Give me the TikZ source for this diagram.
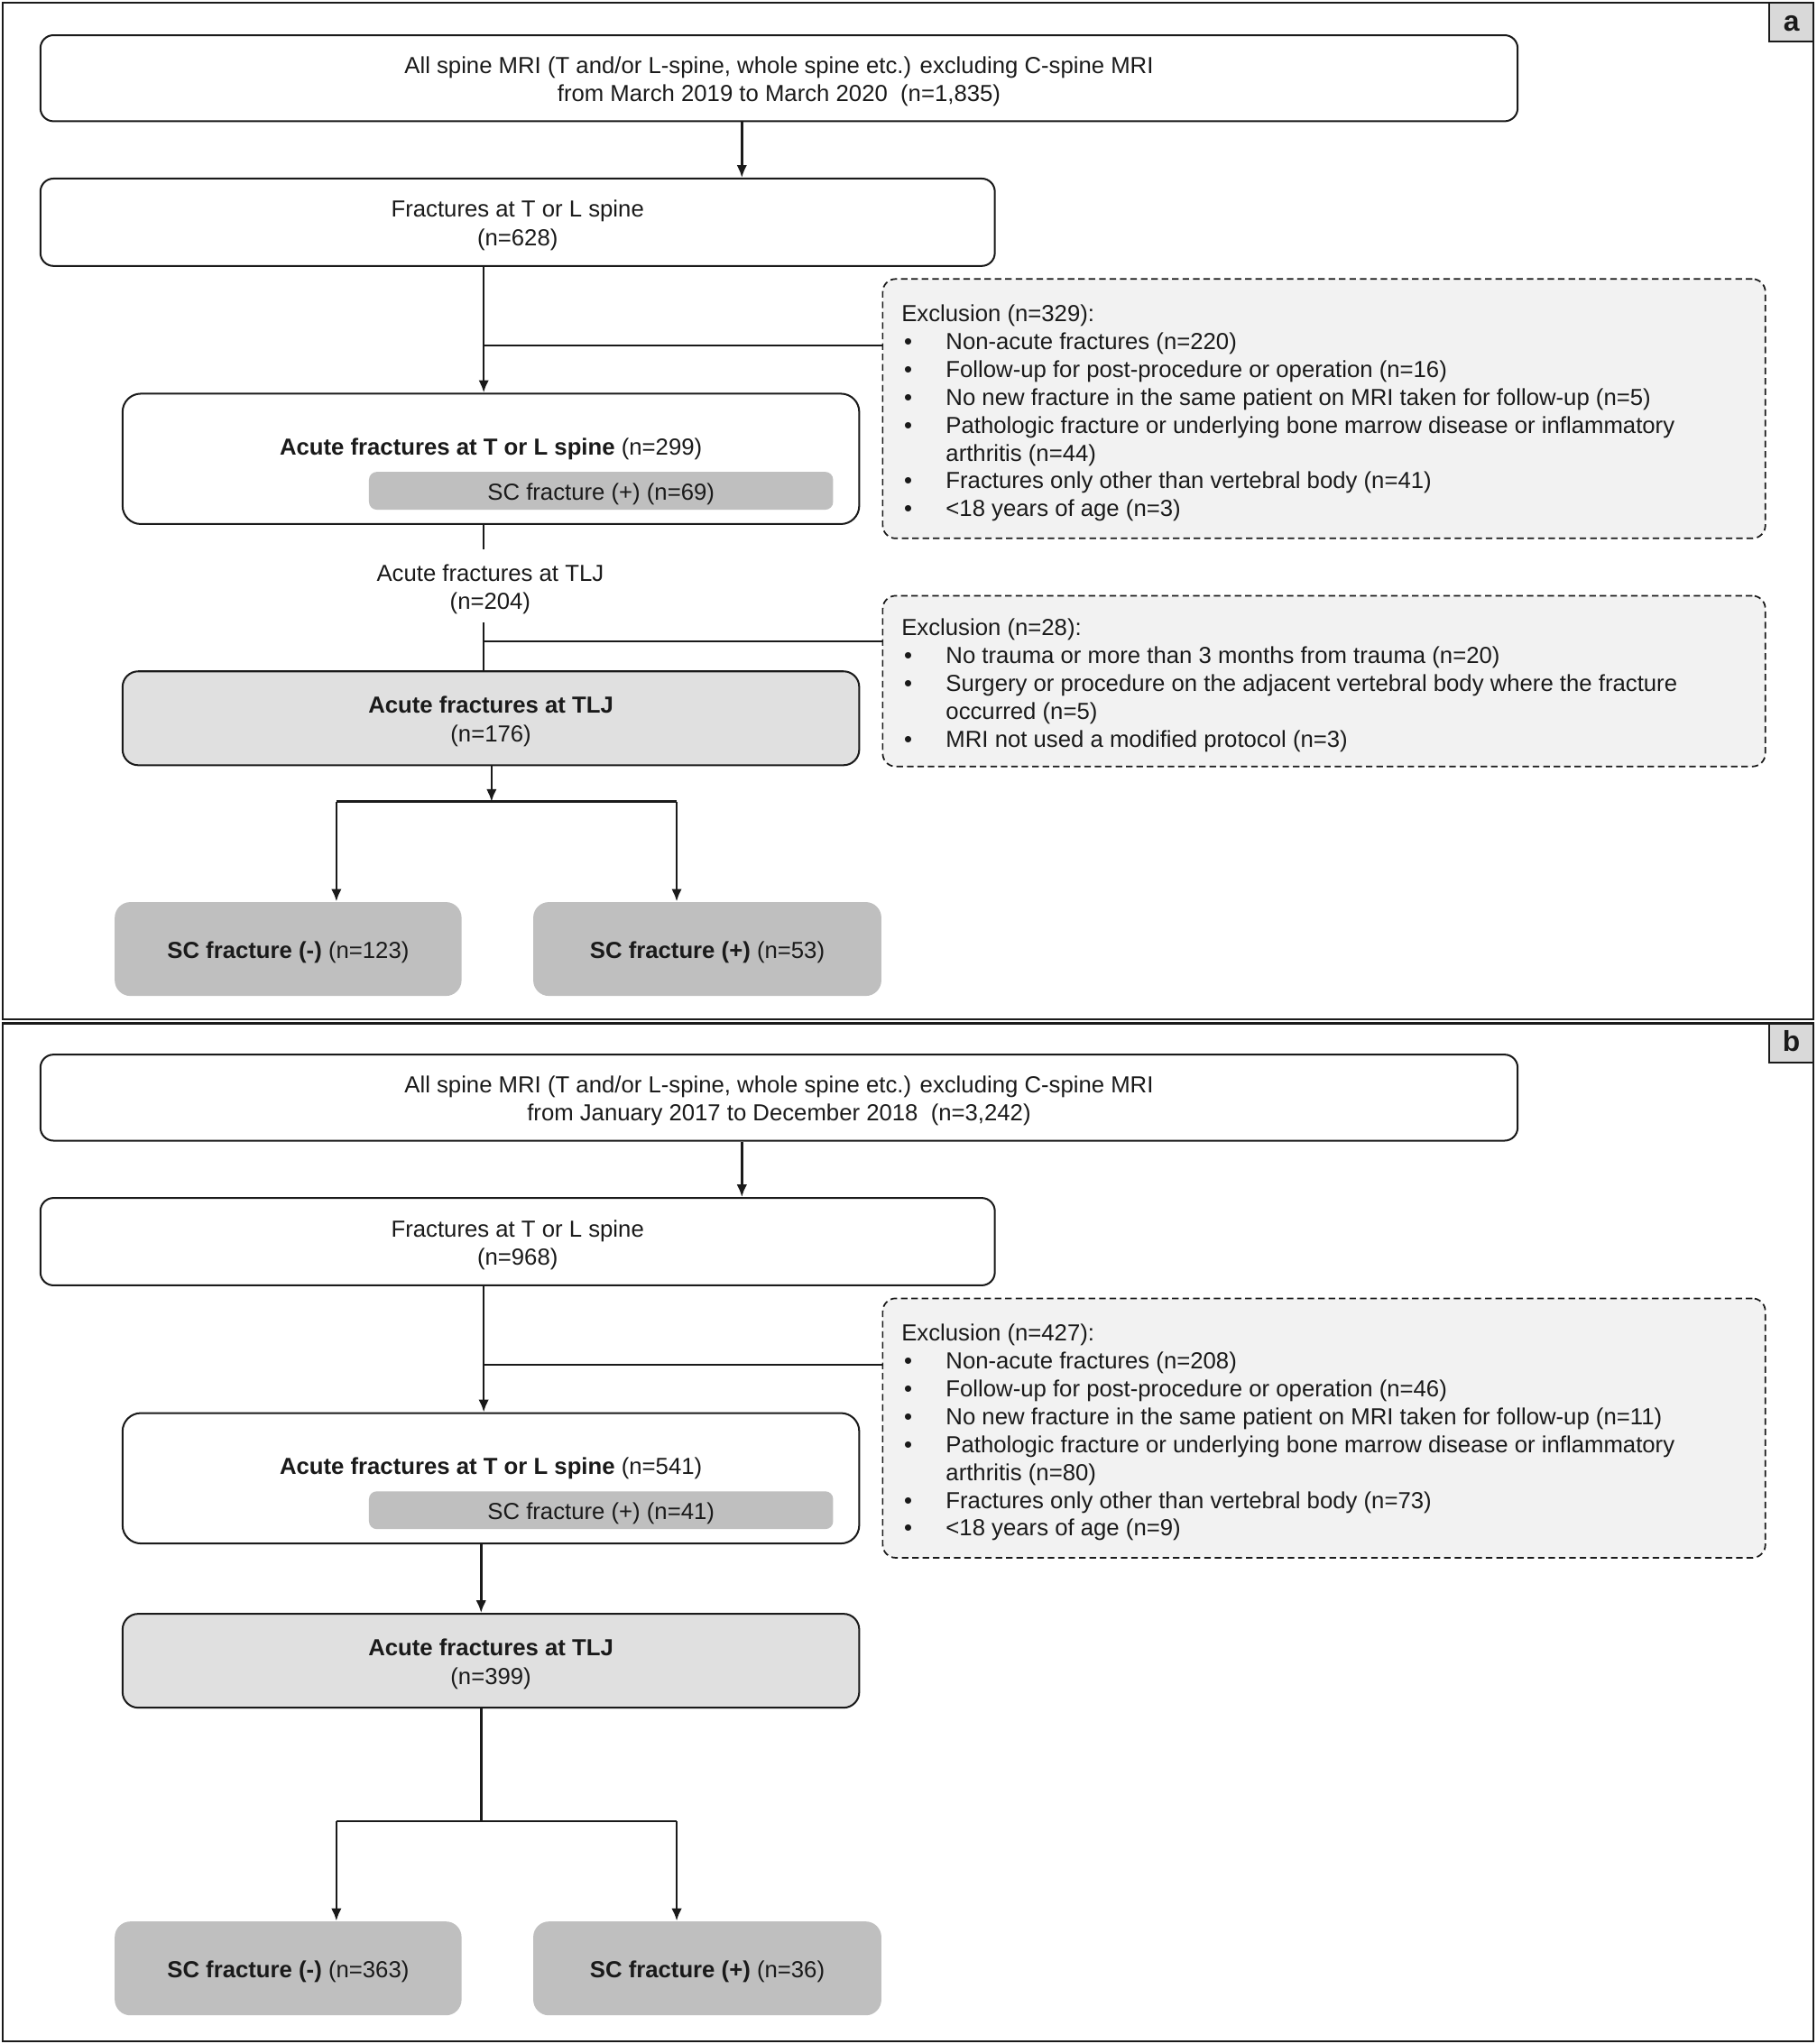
\documentclass[tikz,border=0pt]{standalone}
\usepackage{fontspec}
\setmainfont{Liberation Sans}
\usetikzlibrary{arrows.meta,calc}
\definecolor{excl}{HTML}{F2F2F2}
\definecolor{tljfill}{HTML}{E0E0E0}
\definecolor{scg}{HTML}{BFBFBF}
\definecolor{labfill}{HTML}{D9D9D9}
\definecolor{ink}{HTML}{1A1A1A}
\tikzset{
  every node/.style={font=\fontsize{8.9}{10.9}\selectfont, text=ink},
  panel/.style={draw=ink, line width=0.8pt, inner sep=0pt},
  tagbox/.style={draw=ink, line width=0.8pt, fill=labfill, inner sep=0pt, font=\fontsize{11}{13}\selectfont\bfseries},
  box/.style={draw=ink, line width=0.7pt, rounded corners=5pt, fill=white, align=center, inner sep=0pt},
  midbox/.style={box, rounded corners=7pt},
  tljbox/.style={box, fill=tljfill, rounded corners=6pt},
  scin/.style={fill=scg, rounded corners=3pt, inner sep=0pt, align=center},
  scbox/.style={fill=scg, rounded corners=6pt, inner sep=0pt, align=center},
  exclbox/.style={draw=ink, line width=0.6pt, dash pattern=on 2.5pt off 1.5pt, fill=excl, rounded corners=5pt, align=left, inner xsep=7pt, inner ysep=0pt, font=\fontsize{8.9}{10.7}\selectfont},
  plain/.style={align=center, inner sep=0pt},
  conn/.style={draw=ink, line width=0.9pt},
  arr/.style={conn, -{Latex[length=4.8pt,width=4pt]}},
}
\newcommand\placebox[7]{%
  \node[#1, minimum width={(#5-#3)*0.5pt}, minimum height={(#6-#4)*0.5pt}] (#2) at ({(#3+#5)/2},{(#4+#6)/2}) {#7};}
\newcommand\txt[2][-1.4pt]{\raisebox{#1}[\height][\depth]{\begin{tabular}{@{}c@{}}#2\end{tabular}}}
\newcommand\exl[1]{\raisebox{-1.7pt}[\height][\depth]{\parbox{324pt}{#1}}}
\newcommand\itm[1]{\\\hspace*{1pt}\makebox[16pt][l]{•}#1}
\newcommand\cont[1]{\\\hspace*{17pt}#1}
\begin{document}
\begin{tikzpicture}[x=0.5pt,y=-0.5pt]
\useasboundingbox (0,0) rectangle (1393,1568);
% ---------------- panel a ----------------
\placebox{panel}{pa}{2}{2}{1391}{782}{}
\placebox{tagbox}{taga}{1357}{2}{1391}{32}{\txt[-0.8pt]{a}}
\placebox{box}{a1}{31}{27}{1164}{93}{\txt{All spine MRI (T and/or L-spine, whole spine etc.) excluding C-spine MRI\\from March 2019 to March 2020\ \ (n=1,835)}}
\placebox{box}{a2}{31}{137}{763}{204}{\txt{Fractures at T or L spine\\(n=628)}}
\placebox{exclbox}{aexA}{677}{214}{1354}{413}{%
  \exl{Exclusion (n=329):%
  \itm{Non-acute fractures (n=220)}%
  \itm{Follow-up for post-procedure or operation (n=16)}%
  \itm{No new fracture in the same patient on MRI taken for follow-up (n=5)}%
  \itm{Pathologic fracture or underlying bone marrow disease or inflammatory}%
  \cont{arthritis (n=44)}%
  \itm{Fractures only other than vertebral body (n=41)}%
  \itm{<18 years of age (n=3)}}}
\placebox{midbox}{a3}{94}{302}{659}{402}{\txt[3.6pt]{\textbf{Acute fractures at T or L spine} (n=299)}}
\placebox{scin}{asc}{283}{362}{639}{391}{\txt{SC fracture (+) (n=69)}}
\placebox{plain}{atl}{349}{422}{403}{477}{\txt{Acute fractures at TLJ\\(n=204)}}
\placebox{exclbox}{aexB}{677}{457}{1354}{588}{%
  \exl{Exclusion (n=28):%
  \itm{No trauma or more than 3 months from trauma (n=20)}%
  \itm{Surgery or procedure on the adjacent vertebral body where the fracture}%
  \cont{occurred (n=5)}%
  \itm{MRI not used a modified protocol (n=3)}}}
\placebox{tljbox}{a4}{94}{515}{659}{587}{\txt{\textbf{Acute fractures at TLJ}\\(n=176)}}
\placebox{scbox}{a5}{88}{692}{354}{764}{\txt{\textbf{SC fracture (-)} (n=123)}}
\placebox{scbox}{a6}{409}{692}{676}{764}{\txt{\textbf{SC fracture (+)} (n=53)}}
\coordinate (aTop) at (569,0);
\coordinate (aAx) at (371,0);
\coordinate (aJ1) at (371,265);
\coordinate (aJ2) at (371,492);
\coordinate (aM) at (377,615);
\coordinate (aL) at (258,615);
\coordinate (aR) at (519,615);
\draw[arr] (a1.south -| aTop) -- (a2.north -| aTop);
\draw[arr] (a2.south -| aAx) -- (a3.north -| aAx);
\draw[conn] (aJ1) -- (aexA.west |- aJ1);
\draw[conn] (a3.south -| aAx) -- (atl.north -| aAx);
\draw[conn] (atl.south -| aAx) -- (a4.north -| aAx);
\draw[conn] (aJ2) -- (aexB.west |- aJ2);
\draw[arr] (a4.south -| aM) -- (aM);
\draw[conn] (aL) -- (aR);
\draw[arr] (aL) -- (a5.north -| aL);
\draw[arr] (aR) -- (a6.north -| aR);
% ---------------- panel b ----------------
\placebox{panel}{pb}{2}{785}{1391}{1566}{}
\placebox{tagbox}{tagb}{1357}{785}{1391}{815}{\txt[-0.8pt]{b}}
\placebox{box}{b1}{31}{809}{1164}{875}{\txt{All spine MRI (T and/or L-spine, whole spine etc.) excluding C-spine MRI\\from January 2017 to December 2018\ \ (n=3,242)}}
\placebox{box}{b2}{31}{919}{763}{986}{\txt{Fractures at T or L spine\\(n=968)}}
\placebox{exclbox}{bexA}{677}{996}{1354}{1195}{%
  \exl{Exclusion (n=427):%
  \itm{Non-acute fractures (n=208)}%
  \itm{Follow-up for post-procedure or operation (n=46)}%
  \itm{No new fracture in the same patient on MRI taken for follow-up (n=11)}%
  \itm{Pathologic fracture or underlying bone marrow disease or inflammatory}%
  \cont{arthritis (n=80)}%
  \itm{Fractures only other than vertebral body (n=73)}%
  \itm{<18 years of age (n=9)}}}
\placebox{midbox}{b3}{94}{1084}{659}{1184}{\txt[3.6pt]{\textbf{Acute fractures at T or L spine} (n=541)}}
\placebox{scin}{bsc}{283}{1144}{639}{1173}{\txt{SC fracture (+) (n=41)}}
\placebox{tljbox}{b4}{94}{1238}{659}{1310}{\txt{\textbf{Acute fractures at TLJ}\\(n=399)}}
\placebox{scbox}{b5}{88}{1474}{354}{1546}{\txt{\textbf{SC fracture (-)} (n=363)}}
\placebox{scbox}{b6}{409}{1474}{676}{1546}{\txt{\textbf{SC fracture (+)} (n=36)}}
\coordinate (bTop) at (569,0);
\coordinate (bAx) at (371,0);
\coordinate (bAx2) at (369,0);
\coordinate (bJ1) at (371,1047);
\coordinate (bM) at (369,1397);
\coordinate (bL) at (258,1397);
\coordinate (bR) at (519,1397);
\draw[arr] (b1.south -| bTop) -- (b2.north -| bTop);
\draw[arr] (b2.south -| bAx) -- (b3.north -| bAx);
\draw[conn] (bJ1) -- (bexA.west |- bJ1);
\draw[arr] (b3.south -| bAx2) -- (b4.north -| bAx2);
\draw[conn] (b4.south -| bM) -- (bM);
\draw[conn] (bL) -- (bR);
\draw[arr] (bL) -- (b5.north -| bL);
\draw[arr] (bR) -- (b6.north -| bR);
\end{tikzpicture}
\end{document}
